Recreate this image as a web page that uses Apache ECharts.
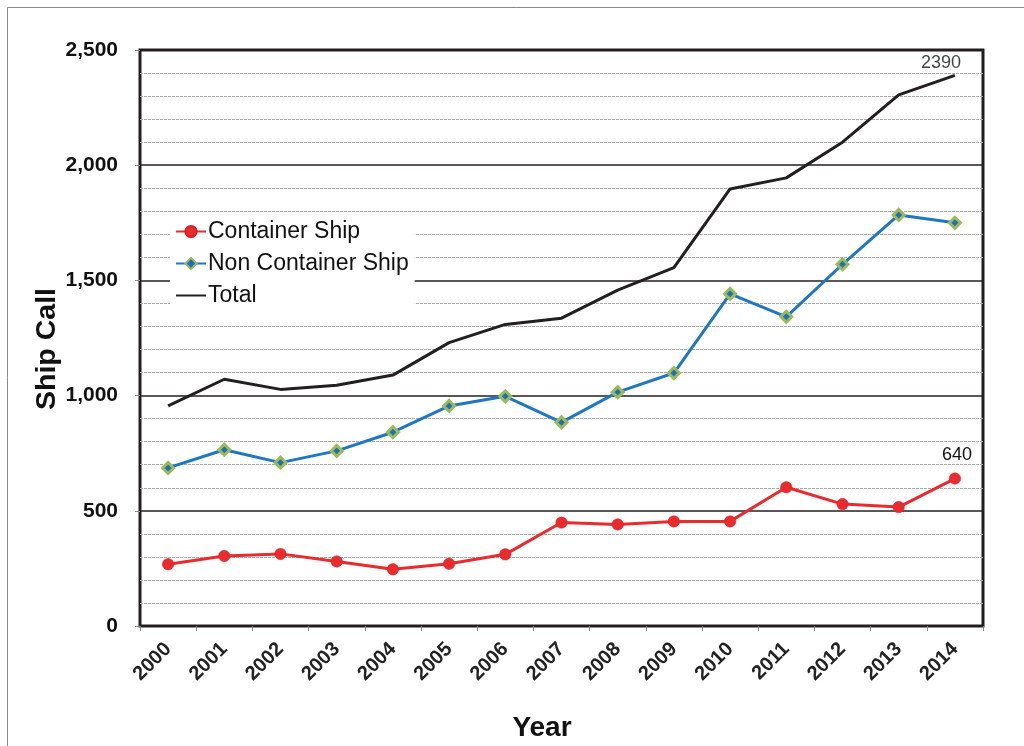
<!DOCTYPE html>
<html>
<head>
<meta charset="utf-8">
<script src="https://cdn.jsdelivr.net/npm/echarts@6/dist/echarts.min.js"></script>
<style>
  html, body { margin: 0; padding: 0; background: #fff; }
  #chart { width: 1024px; height: 746px; }
</style>
</head>
<body>
<div id="chart"></div>
<script>
// Annual ship calls, 2000-2014
const years = ['2000', '2001', '2002', '2003', '2004', '2005', '2006', '2007',
               '2008', '2009', '2010', '2011', '2012', '2013', '2014'];
const containerShip = [268, 304, 313, 280, 246, 270, 311, 449, 441, 454, 454, 602, 529, 516, 640];
const nonContainerShip = [686, 765, 709, 760, 841, 955, 997, 884, 1015, 1098, 1442, 1342, 1570, 1784, 1750];
const totalCalls = [955, 1071, 1027, 1045, 1089, 1230, 1309, 1336, 1458, 1555, 1897, 1945, 2100, 2305, 2390];
const seriesNames = ['Container Ship', 'Non Container Ship', 'Total'];
const yTicks = { min: 0, max: 2500, step: 500 };

const FONT = '"Liberation Sans", Arial, sans-serif';
const last = years.length - 1;

const valueLabel = (offset, distance) => ({
  show: true, position: 'top', distance: distance, offset: offset,
  fontFamily: FONT, fontSize: 18, color: '#111', formatter: '{c}'
});

// Only the final point of a series carries a value label
function labelLast(values, offset, distance) {
  return values.map((v, i) => i === last ? { value: v, label: valueLabel(offset, distance) } : v);
}

const chart = echarts.init(document.getElementById('chart'), null, { renderer: 'canvas' });

chart.setOption({
  animation: false,
  backgroundColor: '#fff',
  textStyle: { fontFamily: FONT },
  grid: {
    left: 140, right: 41, top: 50, bottom: 120,
    show: true, borderColor: '#231F20', borderWidth: 3, backgroundColor: 'transparent'
  },
  legend: {
    data: [
      { name: seriesNames[0] },
      { name: seriesNames[1] },
      // plain line key for the Total series
      { name: seriesNames[2], itemStyle: { opacity: 0 } }
    ],
    orient: 'vertical',
    left: 170, top: 216,
    padding: [4, 6, 4, 5],
    backgroundColor: '#fff',
    itemWidth: 30, itemHeight: 14, itemGap: 9,
    selectedMode: false,
    textStyle: { fontFamily: FONT, fontSize: 23, color: '#111', padding: [0, 0, 0, -3] }
  },
  xAxis: {
    type: 'category',
    data: years,
    boundaryGap: true,
    axisLine: { show: false },
    axisTick: { show: true, alignWithLabel: false, length: 5, lineStyle: { color: '#888', width: 1 } },
    axisLabel: { rotate: 45, margin: 20, fontFamily: FONT, fontSize: 20, fontWeight: 'bold', color: '#222' },
    splitLine: { show: false }
  },
  yAxis: {
    type: 'value',
    min: yTicks.min, max: yTicks.max, interval: yTicks.step,
    axisLine: { show: false },
    axisTick: { show: true, length: 5, lineStyle: { color: '#888', width: 1 } },
    axisLabel: {
      margin: 22, fontFamily: FONT, fontSize: 21, fontWeight: 'bold', color: '#111',
      formatter: v => v.toLocaleString('en-US')
    },
    splitLine: { show: true, lineStyle: { color: '#231F20', width: 1.5 } },
    minorTick: { show: false, splitNumber: 5 },
    minorSplitLine: { show: true, lineStyle: { color: '#aaa', width: 1, type: [3, 1] } }
  },
  graphic: [
    { type: 'rect', silent: true, z: -10,
      shape: { x: 7.5, y: 7.5, width: 1100, height: 800 },
      style: { fill: 'none', stroke: '#8a8a8a', lineWidth: 1 } },
    { type: 'text', silent: true, x: 542, y: 728,
      style: { text: 'Year', x: 0, y: 0, align: 'center', verticalAlign: 'middle',
        font: 'bold 28px ' + FONT, fill: '#111' } },
    { type: 'text', silent: true, rotation: Math.PI / 2, x: 47, y: 349,
      style: { text: 'Ship Call', x: 0, y: 0, align: 'center', verticalAlign: 'middle',
        font: 'bold 28.5px ' + FONT, fill: '#111' } }
  ],
  series: [
    {
      name: seriesNames[0], type: 'line', z: 4,
      data: labelLast(containerShip, [2, 0], 9),
      symbol: 'circle', symbolSize: 11.5,
      lineStyle: { color: '#E92B2E', width: 3 },
      itemStyle: { color: '#E92B2E', borderColor: '#D52226', borderWidth: 0.5 }
    },
    {
      name: seriesNames[1], type: 'line', z: 3,
      data: nonContainerShip,
      symbol: 'diamond', symbolSize: 11,
      lineStyle: { color: '#1F77C4', width: 3 },
      itemStyle: { color: '#1F6FC0', borderColor: '#9BBB59', borderWidth: 3 }
    },
    {
      name: seriesNames[2], type: 'line', z: 2,
      data: totalCalls,
      symbol: 'none',
      lineStyle: { color: '#231F20', width: 3 },
      itemStyle: { color: '#231F20' }
    },
    {
      // value tag at the end of the Total line
      name: 'Total value', type: 'scatter', z: 5, silent: true,
      data: totalCalls.map((v, i) => i === last ? v : '-'),
      symbolSize: 0,
      label: valueLabel([-14, 0], 3)
    }
  ]
});
</script>
</body>
</html>
